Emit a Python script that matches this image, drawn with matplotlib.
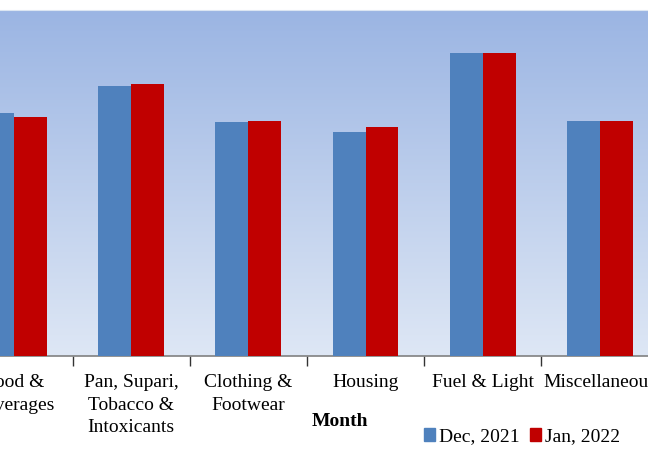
import numpy as np
import matplotlib
matplotlib.use('Agg')
import matplotlib.pyplot as plt
from matplotlib.colors import LinearSegmentedColormap
from matplotlib.patches import Patch

# group labels and index values (y axis not visible)
categories = ['Food &\nBeverages', 'Pan, Supari,\nTobacco &\nIntoxicants', 'Clothing &\nFootwear',
              'Housing', 'Fuel & Light', 'Miscellaneous']
dec_2021 = [126.6, 140.5, 121.7, 116.4, 157.8, 122.3]
jan_2022 = [124.2, 141.5, 122.3, 119.0, 157.8, 122.3]

plt.rcParams['font.family'] = ['Liberation Serif', 'DejaVu Serif']

fig = plt.figure(figsize=(6.48, 4.70), dpi=100)
ax = fig.add_axes([0, 1 - 356 / 470, 1, (356 - 10) / 470])

x = np.arange(len(categories))
w = 0.281
ax.bar(x - w / 2, dec_2021, w, color='#4F81BD', label='Dec, 2021', zorder=3)
ax.bar(x + w / 2, jan_2022, w, color='#C00000', label='Jan, 2022', zorder=3)

xlo, xhi = -0.119, 5.41
# gradient background of the plot area
cmap = LinearSegmentedColormap.from_list('bg', ['#DEE7F5', '#9BB5E3'])
grad = np.linspace(0, 1, 256).reshape(-1, 1)
ax.imshow(grad, cmap=cmap, aspect='auto', origin='lower',
          extent=[xlo, xhi, 0, 180], zorder=0)

ax.set_yticks([])
ax.set_xticks(x)
ax.set_xticklabels(categories, fontsize=14, linespacing=1.42)
ax.tick_params(axis='x', length=0, pad=13)
ax.set_xticks(np.arange(0.5, 5, 1), minor=True)
ax.tick_params(axis='x', which='minor', length=7, width=1, color='#333333', direction='out')
ax.set_xlim(xlo, xhi)
ax.set_ylim(0, 180)

for s in ['left', 'right']:
    ax.spines[s].set_visible(False)
ax.spines['top'].set_color('#DCE6F2')
ax.spines['bottom'].set_color('#808080')
ax.spines['bottom'].set_linewidth(1.2)

fig.text(340 / 648, 1 - 422 / 470, 'Month', ha='center', va='center',
         fontsize=14, fontweight='bold')

handles = [Patch(color='#4F81BD', label='Dec, 2021'), Patch(color='#C00000', label='Jan, 2022')]
fig.legend(handles=handles, loc='center', bbox_to_anchor=(522 / 648, 1 - 437 / 470),
           ncol=2, frameon=False, fontsize=14, handlelength=0.6, handleheight=0.6,
           handletextpad=0.2, columnspacing=0.5)

fig.savefig('out.png', dpi=100)
